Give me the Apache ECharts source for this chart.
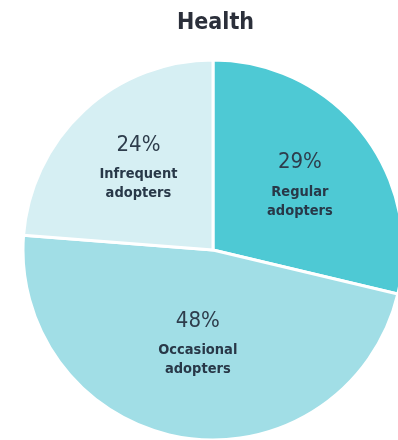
<!DOCTYPE html>
<html>
	<head>
		<meta charset="UTF-8">
		<title></title>
		<script type="text/javascript" src="https://cdn.jsdelivr.net/npm/echarts@6/dist/echarts.min.js"></script>
	</head>
	<body style="margin:0">
		<div id="main" style="height:440px;width:398px"></div>
	</body>
</html>
<script>
    var categories = ['Regular adopters', 'Occasional adopters', 'Infrequent adopters'];
    var shares = [29, 48, 24];
    var colors = ['#4ec9d4', '#a1dee6', '#d6eff3'];

    var font = '"Liberation Sans Narrow", "DejaVu Sans Condensed", "Roboto Condensed", Roboto, sans-serif';
    var myChart = echarts.init(document.getElementById("main"));
    var option = {
        backgroundColor: '#fff',
        title: {
            text: 'Health',
            left: 172,
            top: 7,
            textStyle: {
                fontFamily: font,
                fontWeight: 'bold',
                fontSize: 23,
                color: '#2b2f3a'
            }
        },
        series: [{
            type: 'pie',
            center: [213, 250],
            radius: 190,
            startAngle: 90,
            clockwise: true,
            silent: true,
            itemStyle: { borderColor: '#fff', borderWidth: 3 },
            label: {
                position: 'inside',
                formatter: function (p) {
                    return '{p|' + p.value + '%}\n{n|' + p.name.replace(' ', '\n') + '}';
                },
                rich: {
                    p: { fontFamily: font, fontSize: 22, color: '#2e3d4c', lineHeight: 40 },
                    n: { fontFamily: font, fontWeight: 'bold', fontSize: 14.5, color: '#283848', lineHeight: 19 }
                }
            },
            labelLayout: function (params) {
                var d = [[10, -8], [0, -7], [-8, -14]][params.dataIndex];
                return { dx: d[0], dy: d[1] };
            },
            data: categories.map(function (c, i) {
                return { name: c, value: shares[i], itemStyle: { color: colors[i] } };
            })
        }]
    };
    myChart.setOption(option);
</script>
